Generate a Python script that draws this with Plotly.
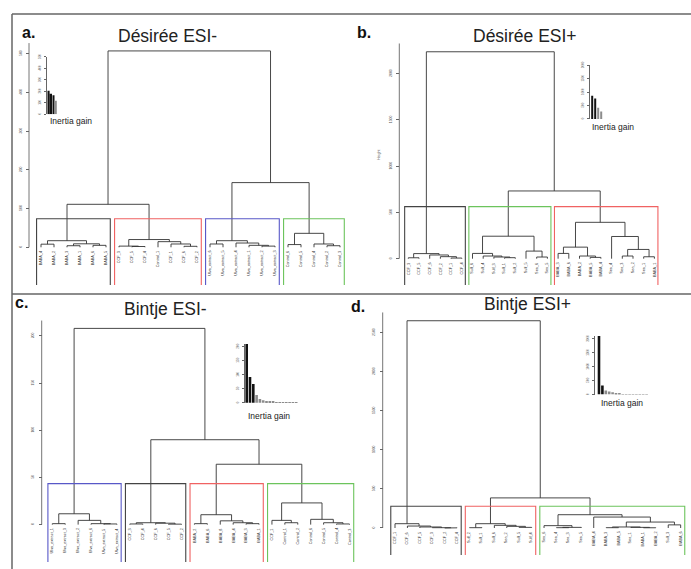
import plotly.graph_objects as go

W, H = 691, 569
FONT = "Liberation Sans, Arial, sans-serif"

# ---------------- DATA ----------------
# Panel a : Désirée ESI-
a_title = "Désirée ESI-"
a_labels = ["BABA_4", "BABA_2", "BABA_3", "BABA_1", "BABA_6", "BABA_5",
            "CCF_3", "CCF_5", "CCF_4", "Control_1", "CCF_1", "CCF_6", "CCF_2",
            "Ulva_extract_6", "Ulva_extract_5", "Ulva_extract_4", "Ulva_extract_1",
            "Ulva_extract_2", "Ulva_extract_3",
            "Control_6", "Control_5", "Control_4", "Control_2", "Control_3"]
a_merge = [(-1, -2), (-3, -4), (-5, -6), (2, 3), (1, 4), (-8, -9), (-7, 6), (-12, -13),
           (-11, 8), (-10, 9), (7, 10), (5, 11), (-14, -15), (-18, -19), (-17, 14),
           (-16, 15), (13, 16), (-20, -21), (-23, -24), (-22, 19), (18, 20), (17, 21), (12, 22)]
a_height = [8, 4, 5, 9, 17, 2, 3, 2.5, 8.5, 14.5, 20, 111, 8.5, 3, 5, 11, 17, 7, 4, 8.5,
            36, 167, 507]
a_cluster_sizes = [6, 7, 6, 5]
a_cluster_colors = ["#444444", "#f06262", "#5858c8", "#6cc45c"]
a_ticks = [0, 100, 200, 300, 400, 500]
a_gain = [205, 178, 165, 118]
a_gain_ticks = [0, 100, 200, 300, 400, 500]

# Panel b : Désirée ESI+
b_title = "Désirée ESI+"
b_labels = ["CCF_3", "CCF_5", "CCF_6", "CCF_2", "CCF_1", "CCF_4",
            "Sulf_6", "Sulf_4", "Sulf_3", "Sulf_1", "Sulf_2", "Sulf_5", "Sea_6", "Sea_5",
            "BABA_3", "BABA_6", "BABA_2", "BABA_5", "BABA_4",
            "Sea_4", "Sea_3", "Sea_2", "Sea_1", "BABA_1"]
b_merge = [(-1, -2), (-5, -6), (-4, 2), (-3, 3), (1, 4), (-10, -11), (-9, 6), (-8, 7),
           (-7, 8), (-13, -14), (-12, 10), (9, 11), (-15, -16), (-18, -19), (-17, 14),
           (13, 15), (-21, -22), (-23, -24), (17, 18), (-20, 19), (16, 20), (12, 21), (5, 22)]
b_height = [10, 7, 22, 40, 55, 11, 18, 29, 57, 18, 82, 243, 57, 14, 29, 125, 29, 21,
            100, 240, 393, 732, 2236]
b_cluster_sizes = [6, 8, 10]
b_cluster_colors = ["#444444", "#6cc45c", "#f06262"]
b_ticks = [0, 500, 1000, 1500, 2000]
b_gain = [864, 765, 420, 272]
b_gain_ticks = [0, 500, 1000, 1500, 2000]

# Panel c : Bintje ESI-
c_title = "Bintje ESI-"
c_labels = ["Ulva_extract_1", "Ulva_extract_3", "Ulva_extract_2", "Ulva_extract_6",
            "Ulva_extract_5", "Ulva_extract_4",
            "CCF_3", "CCF_4", "CCF_6", "CCF_5", "CCF_2",
            "BABA_2", "BABA_6", "BABA_8", "BABA_4", "BABA_3", "BABA_1",
            "CCF_1", "Control_1", "Control_2", "Control_6", "Control_5", "Control_4", "Control_3"]
c_merge = [(-1, -2), (-5, -6), (-4, 2), (-3, 3), (1, 4), (-7, -8), (-10, -11), (-9, 7),
           (6, 8), (-12, -13), (-16, -17), (-15, 11), (-14, 12), (10, 13), (-19, -20),
           (-18, 15), (-23, -24), (-22, 17), (-21, 18), (16, 19), (14, 20), (9, 21), (5, 22)]
c_height = [1, 0.7, 1, 4.5, 11.5, 0.7, 0.5, 1.5, 2, 1, 1, 2, 4, 10.5, 2, 4.5, 0.7, 2,
            5.6, 23, 64, 90, 208]
c_cluster_sizes = [6, 5, 6, 7]
c_cluster_colors = ["#5858c8", "#444444", "#f06262", "#6cc45c"]
c_ticks = [0, 50, 100, 150, 200]
c_gain = [209, 92, 67, 28, 14, 9, 4, 3, 3, 2.5, 2.5, 2, 2, 2, 1.5, 1.5]
c_gain_ticks = [0, 50, 100, 150, 200]

# Panel d : Bintje ESI+
d_title = "Bintje ESI+"
d_labels = ["CCF_1", "CCF_6", "CCF_5", "CCF_3", "CCF_2", "CCF_4",
            "Sulf_2", "Sulf_1", "Sulf_6", "Sea_2", "Sulf_5", "Sulf_4",
            "Sea_6", "Sea_4", "Sea_3", "Sea_5", "BABA_4", "BABA_3", "BABA_5", "Sea_1",
            "BABA_1", "BABA_2", "Sulf_3", "BABA_6"]
d_merge = [(-5, -6), (-4, 1), (-3, 2), (-2, 3), (-1, 4), (-7, -8), (-11, -12), (-10, 7),
           (-9, 8), (6, 9), (-14, -15), (11, -16), (-13, 12), (-18, -19), (-21, -22),
           (-20, 15), (14, 16), (-23, -24), (17, 18), (-17, 19), (13, 20), (10, 21), (5, 22)]
d_height = [2, 4, 13, 25, 55, 4, 8, 21, 34, 55, 4, 8, 30, 4, 3, 8, 13, 40, 76, 140, 170,
            385, 2652]
d_cluster_sizes = [6, 6, 12]
d_cluster_colors = ["#444444", "#f06262", "#6cc45c"]
d_ticks = [0, 500, 1000, 1500, 2000, 2500]
d_gain = [2107, 321, 143, 107, 83, 30, 24, 20, 18, 15, 12, 10, 8, 8, 6]
d_gain_ticks = [0, 500, 1000, 1500, 2000]

# ---------------- LAYOUT (pixel geometry) ----------------
panels = [
    dict(letter="a.", title=a_title, labels=a_labels, merge=a_merge, height=a_height,
         sizes=a_cluster_sizes, colors=a_cluster_colors, ticks=a_ticks, gain=a_gain,
         gticks=a_gain_ticks,
         leaf1=41.0, step=13.0, zero=245.0, ppu=0.39, axis_x=29.0, dom_x=(31, 347),
         dom_y=(36, 287), floor=283.0, letter_xy=(28, 29), title_xy=(167, 32),
         ins=dict(axis_x=45.7, zero=111.0, ppu=(111 - 53.3) / 500, bar1=48.7, bstep=2.4,
                  bw=1.8, nblack=3, label_xy=(70.5, 117.5)), height_label=None),
    dict(letter="b.", title=b_title, labels=b_labels, merge=b_merge, height=b_height,
         sizes=b_cluster_sizes, colors=b_cluster_colors, ticks=b_ticks, gain=b_gain,
         gticks=b_gain_ticks,
         leaf1=408.3, step=10.7, zero=256.5, ppu=46.6 / 500, axis_x=399.3, dom_x=(401, 690),
         dom_y=(36, 287), floor=283.0, letter_xy=(364, 29), title_xy=(525, 32),
         ins=dict(axis_x=589.0, zero=115.7, ppu=(115.7 - 61.7) / 2000, bar1=592.2, bstep=3.0,
                  bw=2.0, nblack=2, label_xy=(613, 123.5)), height_label=(379, 145)),
    dict(letter="c.", title=c_title, labels=c_labels, merge=c_merge, height=c_height,
         sizes=c_cluster_sizes, colors=c_cluster_colors, ticks=c_ticks, gain=c_gain,
         gticks=c_gain_ticks,
         leaf1=52.3, step=12.92, zero=524.3, ppu=0.95, axis_x=41.7, dom_x=(44, 358),
         dom_y=(306, 566), floor=562.0, letter_xy=(22, 301), title_xy=(165, 307),
         ins=dict(axis_x=244.0, zero=401.7, ppu=(401.7 - 345) / 200, bar1=246.7, bstep=3.3,
                  bw=2.6, nblack=3, label_xy=(269, 415)), height_label=None),
    dict(letter="d.", title=d_title, labels=d_labels, merge=d_merge, height=d_height,
         sizes=d_cluster_sizes, colors=d_cluster_colors, ticks=d_ticks, gain=d_gain,
         gticks=d_gain_ticks,
         leaf1=395.0, step=12.42, zero=527.7, ppu=39.35 / 500, axis_x=382.7, dom_x=(385, 690),
         dom_y=(306, 566), floor=555.0, letter_xy=(358, 305), title_xy=(527, 302),
         ins=dict(axis_x=594.0, zero=393.3, ppu=(393.3 - 337.3) / 2000, bar1=599.0, bstep=3.4,
                  bw=2.6, nblack=2, label_xy=(622, 401.5)), height_label=None),
]


def fx(px):
    return px / W


def fy(py):
    return 1 - py / H


def dendro_path(merge, height):
    nodes = {}
    xs, ys = [], []
    for j, ((a, b), h) in enumerate(zip(merge, height), start=1):
        xa, ha = (-a, 0.0) if a < 0 else nodes[a]
        xb, hb = (-b, 0.0) if b < 0 else nodes[b]
        xs += [xa, xa, xb, xb, None]
        ys += [ha, h, h, hb, None]
        nodes[j] = ((xa + xb) / 2, h)
    return xs, ys


fig = go.Figure()
layout = dict(width=W, height=H, margin=dict(l=0, r=0, t=0, b=0),
              paper_bgcolor="white", plot_bgcolor="rgba(0,0,0,0)", showlegend=False)
shapes, annotations = [], []

for k, p in enumerate(panels):
    n = k + 1
    xa, ya = ("x" if n == 1 else f"x{n}"), ("y" if n == 1 else f"y{n}")
    xkey, ykey = ("xaxis" if n == 1 else f"xaxis{n}"), ("yaxis" if n == 1 else f"yaxis{n}")

    # main axes
    x0, x1 = p["dom_x"]
    yt, yb = p["dom_y"]
    layout[xkey] = dict(domain=[fx(x0), fx(x1)], visible=False, fixedrange=True,
                        range=[1 + (x0 - p["leaf1"]) / p["step"], 1 + (x1 - p["leaf1"]) / p["step"]],
                        anchor=ya)
    layout[ykey] = dict(domain=[fy(yb), fy(yt)], anchor="free", position=fx(p["axis_x"]),
                        range=[(p["zero"] - yb) / p["ppu"], (p["zero"] - yt) / p["ppu"]],
                        showline=False, showgrid=False, zeroline=False, fixedrange=True,
                        ticks="outside", ticklen=3, tickwidth=0.8, tickcolor="#666",
                        tickmode="array", tickvals=p["ticks"],
                        ticktext=[str(t) for t in p["ticks"]], tickangle=-90,
                        tickfont=dict(size=3.4, color="#555", family=FONT),
                        ticklabelstandoff=3)
    # axis line (R style: spans the plotting region height)
    top_val = max(p["height"]) * 1.04
    shapes.append(dict(type="line", xref="paper", yref="paper",
                       x0=fx(p["axis_x"]), x1=fx(p["axis_x"]),
                       y0=fy(p["zero"]), y1=fy(p["zero"] - top_val * p["ppu"]),
                       line=dict(color="#666", width=0.9)))

    # dendrogram
    xs, ys = dendro_path(p["merge"], p["height"])
    fig.add_trace(go.Scatter(x=xs, y=ys, mode="lines", xaxis=xa, yaxis=ya,
                             line=dict(color="#333", width=0.9), hoverinfo="skip"))

    # cluster boxes
    kc = len(p["sizes"])
    hs = sorted(p["height"], reverse=True)
    box_top = (hs[kc - 2] + hs[kc - 1]) / 2
    floor = (p["zero"] - p["floor"]) / p["ppu"]
    start = 1
    for size, col in zip(p["sizes"], p["colors"]):
        l, r = start - 0.34, start + size - 1 + 0.33
        fig.add_trace(go.Scatter(x=[l, l, r, r], y=[floor, box_top, box_top, floor],
                                 mode="lines", xaxis=xa, yaxis=ya,
                                 line=dict(color=col, width=1.1), hoverinfo="skip"))
        start += size

    # leaf labels
    for i, lab in enumerate(p["labels"], start=1):
        annotations.append(dict(x=i, y=0, xref=xa, yref=ya, text=lab, textangle=-90,
                                showarrow=False, xanchor="center", yanchor="top", yshift=-2,
                                font=dict(size=3.8, color="#333", family=FONT)))

    # title and panel letter
    annotations.append(dict(x=fx(p["title_xy"][0]), y=fy(p["title_xy"][1]), xref="paper",
                            yref="paper", text=p["title"], showarrow=False,
                            xanchor="center", yanchor="middle",
                            font=dict(size=17.5, color="#222", family=FONT)))
    annotations.append(dict(x=fx(p["letter_xy"][0]), y=fy(p["letter_xy"][1]), xref="paper",
                            yref="paper", text="<b>" + p["letter"] + "</b>", showarrow=False,
                            xanchor="center", yanchor="middle",
                            font=dict(size=16, color="#111", family=FONT)))
    if p["height_label"]:
        annotations.append(dict(x=fx(p["height_label"][0]), y=fy(p["height_label"][1]),
                                xref="paper", yref="paper", text="Height", textangle=-90,
                                showarrow=False, font=dict(size=3.6, color="#444", family=FONT)))

    # inset: inertia gain
    m = n + 4
    ixa, iya = f"x{m}", f"y{m}"
    ins = p["ins"]
    g = p["gain"]
    gx0 = ins["axis_x"] + 0.8
    gx1 = ins["bar1"] + ins["bstep"] * (len(g) - 1) + 3
    rmax = max(max(g), max(p["gticks"]))
    layout[f"xaxis{m}"] = dict(domain=[fx(gx0), fx(gx1)], visible=False, fixedrange=True,
                               range=[1 + (gx0 - ins["bar1"]) / ins["bstep"],
                                      1 + (gx1 - ins["bar1"]) / ins["bstep"]], anchor=iya)
    layout[f"yaxis{m}"] = dict(domain=[fy(ins["zero"]), fy(ins["zero"] - rmax * ins["ppu"])],
                               range=[0, rmax], anchor="free", position=fx(ins["axis_x"]),
                               showline=True, linecolor="#666", linewidth=0.8,
                               showgrid=False, zeroline=False, fixedrange=True,
                               ticks="outside", ticklen=2, tickwidth=0.7, tickcolor="#666",
                               tickmode="array", tickvals=p["gticks"],
                               ticktext=[str(t) for t in p["gticks"]], tickangle=-90,
                               tickfont=dict(size=3.0, color="#555", family=FONT),
                               ticklabelstandoff=2)
    cols = ["#111111" if i < ins["nblack"] else "#8c8c8c" for i in range(len(g))]
    fig.add_trace(go.Bar(x=list(range(1, len(g) + 1)), y=g, xaxis=ixa, yaxis=iya,
                         width=ins["bw"] / ins["bstep"], marker=dict(color=cols, line=dict(width=0)),
                         hoverinfo="skip"))
    annotations.append(dict(x=fx(ins["label_xy"][0]), y=fy(ins["label_xy"][1]), xref="paper",
                            yref="paper", text="Inertia gain", showarrow=False,
                            xanchor="center", yanchor="middle",
                            font=dict(size=8.5, color="#222", family=FONT)))

# figure frame lines
frame_col = "#666"
shapes += [
    dict(type="line", xref="paper", yref="paper", x0=fx(12), x1=1, y0=fy(10), y1=fy(10),
         line=dict(color=frame_col, width=1.5)),
    dict(type="line", xref="paper", yref="paper", x0=fx(12), x1=fx(12), y0=fy(10), y1=0,
         line=dict(color=frame_col, width=1.5)),
    dict(type="line", xref="paper", yref="paper", x0=fx(12), x1=1, y0=fy(292), y1=fy(292),
         line=dict(color=frame_col, width=1.5)),
]

layout["shapes"] = shapes
layout["annotations"] = annotations
fig.update_layout(**layout)
fig.write_html("out.html", config={"displayModeBar": False},
               post_script="document.body.style.margin='0';document.body.style.overflow='hidden';")
